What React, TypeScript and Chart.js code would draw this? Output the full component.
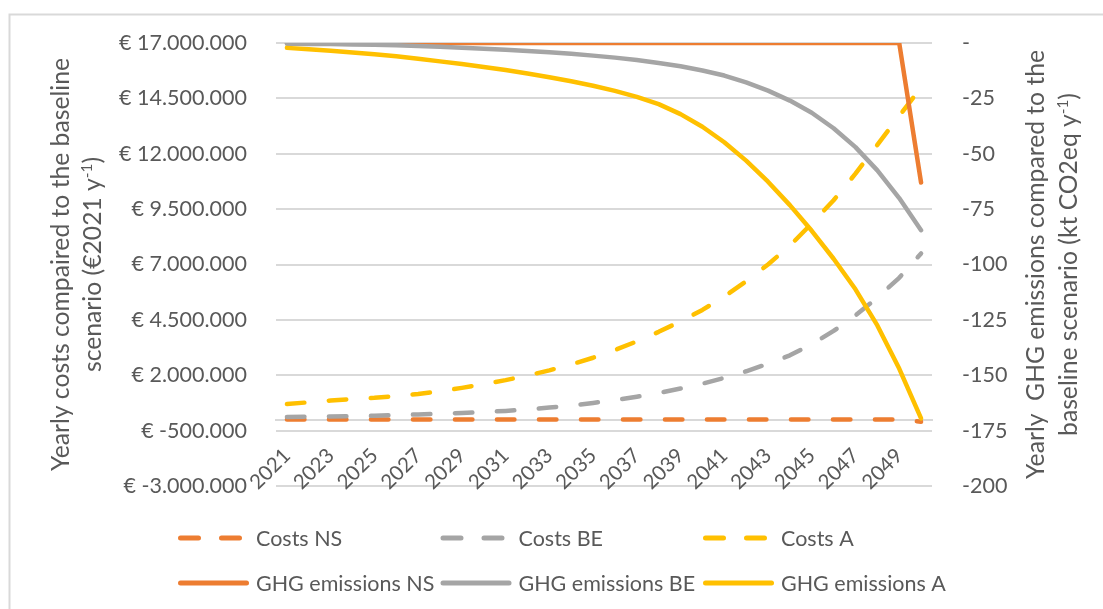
import React, { useEffect, useRef } from 'react';
import { Chart, registerables } from 'chart.js';

Chart.register(...registerables);

// ---------- data ----------
const years = [
  '2021', '2022', '2023', '2024', '2025', '2026', '2027', '2028', '2029', '2030',
  '2031', '2032', '2033', '2034', '2035', '2036', '2037', '2038', '2039', '2040',
  '2041', '2042', '2043', '2044', '2045', '2046', '2047', '2048', '2049', '2050',
];

// Yearly costs (€2021 per year) – left axis
const costsNS = [
  0, 0, 0, 0, 0, 0, 0, 0, 0, 0,
  0, 0, 0, 0, 0, 0, 0, 0, 0, 0,
  0, 0, 0, 0, 0, 0, 0, 0, 0, -100000,
];
const costsBE = [
  120000, 130000, 140000, 150000, 170000, 200000, 230000, 260000, 300000, 340000,
  390000, 460000, 540000, 630000, 750000, 880000, 1030000, 1200000, 1400000, 1620000,
  1880000, 2180000, 2520000, 2900000, 3400000, 4000000, 4700000, 5500000, 6400000, 7500000,
];
const costsA = [
  700000, 780000, 860000, 930000, 980000, 1060000, 1150000, 1280000, 1430000, 1600000,
  1780000, 1990000, 2220000, 2490000, 2790000, 3140000, 3530000, 3960000, 4430000, 4950000,
  5550000, 6240000, 7000000, 7850000, 8850000, 9900000, 11100000, 12400000, 13700000, 15000000,
];

// Yearly GHG emissions (kt CO2eq per year) – right axis
const ghgNS = [
  0, 0, 0, 0, 0, 0, 0, 0, 0, 0,
  0, 0, 0, 0, 0, 0, 0, 0, 0, 0,
  0, 0, 0, 0, 0, 0, 0, 0, 0, -63,
];
const ghgBE = [
  -0.3, -0.4, -0.5, -0.65, -0.8, -1.0, -1.3, -1.7, -2.1, -2.6,
  -3.1, -3.6, -4.2, -4.9, -5.7, -6.6, -7.7, -9.0, -10.5, -12.4,
  -14.7, -17.8, -21.5, -26, -31.5, -38.5, -47, -57.5, -70, -84.5,
];
const ghgA = [
  -2.2, -2.8, -3.5, -4.3, -5.1, -6.0, -7.1, -8.3, -9.5, -10.8,
  -12.2, -13.8, -15.5, -17.3, -19.3, -21.6, -24.3, -27.6, -32.1, -37.8,
  -44.8, -53.1, -62.6, -73.2, -84.8, -97.4, -111.2, -127.5, -147, -169.5,
];

const costAxis = { min: -3000000, max: 17000000, step: 2500000 };
const ghgAxis = { min: -200, max: 0, step: 25 };

const seriesLabels = [
  'Costs NS', 'Costs BE', 'Costs A',
  'GHG emissions NS', 'GHG emissions BE', 'GHG emissions A',
];

const leftTitle = ['Yearly costs compaired to the baseline', 'scenario (€2021 y', '-1', ')'];
const rightTitle = ['Yearly  GHG emissions compared to the', 'baseline scenario (kt CO2eq y', '-1', ')'];

// ---------- styles ----------
const ORANGE = '#ED7D31';
const GRAY = '#A5A5A5';
const YELLOW = '#FFC000';
const TEXT = '#595959';
const GRID = '#d9d9d9';
const FONT_FAMILY = 'Lato, "Noto Sans", sans-serif';
const FONT_SIZE = 21.5;
const XTICK_SIZE = 20.5;
const TITLE_SIZE = 24.7;
const LINE_W = 4.5;
const DASH = [17.5, 24.5];

function formatEuro(v: number): string {
  const neg = v < 0;
  const s = Math.round(Math.abs(v)).toString();
  let out = '';
  for (let i = 0; i < s.length; i++) {
    if (i > 0 && (s.length - i) % 3 === 0) out += '.';
    out += s[i];
  }
  return '€ ' + (neg ? '-' : '') + out;
}

function drawRotatedTitle(ctx: CanvasRenderingContext2D, parts: string[], x1: number, x2: number, cy: number) {
  ctx.save();
  ctx.fillStyle = TEXT;
  ctx.textBaseline = 'alphabetic';
  const mainFont = `${TITLE_SIZE}px ${FONT_FAMILY}`;
  const supFont = `${TITLE_SIZE * 0.62}px ${FONT_FAMILY}`;
  // first line
  ctx.save();
  ctx.translate(x1, cy);
  ctx.rotate(-Math.PI / 2);
  ctx.font = mainFont;
  ctx.textAlign = 'center';
  ctx.fillText(parts[0], 0, 0);
  ctx.restore();
  // second line with superscript
  ctx.save();
  ctx.translate(x2, cy);
  ctx.rotate(-Math.PI / 2);
  ctx.font = mainFont;
  const w1 = ctx.measureText(parts[1]).width;
  const w3 = ctx.measureText(parts[3]).width;
  ctx.font = supFont;
  const w2 = ctx.measureText(parts[2]).width;
  const total = w1 + w2 + w3;
  let x = -total / 2;
  ctx.textAlign = 'left';
  ctx.font = mainFont;
  ctx.fillText(parts[1], x, 0);
  x += w1;
  ctx.font = supFont;
  ctx.fillText(parts[2], x, -TITLE_SIZE * 0.38);
  x += w2;
  ctx.font = mainFont;
  ctx.fillText(parts[3], x, 0);
  ctx.restore();
  ctx.restore();
}

const decorPlugin = {
  id: 'decor',
  beforeDraw(chart: any) {
    const ctx = chart.ctx as CanvasRenderingContext2D;
    ctx.save();
    ctx.fillStyle = '#ffffff';
    ctx.fillRect(0, 0, chart.width, chart.height);
    ctx.strokeStyle = GRID;
    ctx.lineWidth = 2;
    ctx.strokeRect(9.5, 14.5, chart.width + 20, chart.height + 20);
    ctx.restore();
  },
  afterDraw(chart: any) {
    const ctx = chart.ctx as CanvasRenderingContext2D;
    const cy = (chart.chartArea.top + chart.chartArea.bottom) / 2;
    drawRotatedTitle(ctx, leftTitle, 69, 101, cy);
    drawRotatedTitle(ctx, rightTitle, 1044, 1077, cy);

    // legend: 3 columns x 2 rows
    const colX = [178, 440.5, 703];
    const rowY = [538, 583];
    ctx.save();
    ctx.font = `${FONT_SIZE}px ${FONT_FAMILY}`;
    ctx.textBaseline = 'middle';
    ctx.textAlign = 'left';
    chart.data.datasets.forEach((ds: any, i: number) => {
      const x0 = colX[i % 3];
      const y = rowY[Math.floor(i / 3)];
      ctx.strokeStyle = ds.borderColor;
      ctx.lineWidth = 5;
      ctx.lineCap = 'round';
      const dashed = !!(ds.borderDash && ds.borderDash.length);
      ctx.setLineDash(dashed ? [18, 23] : []);
      ctx.beginPath();
      ctx.moveTo(x0 + 2.5, y);
      ctx.lineTo(x0 + (dashed ? 62.5 : 68.5), y);
      ctx.stroke();
      ctx.setLineDash([]);
      ctx.fillStyle = TEXT;
      ctx.fillText(ds.label, x0 + 78, y + 1);
    });
    ctx.restore();
  },
};

export default function App() {
  const canvasRef = useRef<HTMLCanvasElement | null>(null);

  useEffect(() => {
    const canvas = canvasRef.current;
    if (!canvas) return;
    const mk = (label: string, data: number[], color: string, dashed: boolean, axis: string, order: number) => ({
      label,
      data,
      borderColor: color,
      backgroundColor: color,
      borderWidth: LINE_W,
      borderDash: dashed ? DASH : [],
      borderCapStyle: 'round',
      borderJoinStyle: 'round',
      pointRadius: 0,
      pointHoverRadius: 0,
      tension: 0,
      fill: false,
      yAxisID: axis,
      order,
    });
    const chart = new Chart(canvas, {
      type: 'line',
      data: {
        labels: years,
        datasets: [
          mk(seriesLabels[0], costsNS, ORANGE, true, 'y', 5),
          mk(seriesLabels[1], costsBE, GRAY, true, 'y', 4),
          mk(seriesLabels[2], costsA, YELLOW, true, 'y', 3),
          mk(seriesLabels[3], ghgNS, ORANGE, false, 'y1', 2),
          mk(seriesLabels[4], ghgBE, GRAY, false, 'y1', 1),
          mk(seriesLabels[5], ghgA, YELLOW, false, 'y1', 0),
        ] as any,
      },
      options: {
        animation: false,
        responsive: false,
        devicePixelRatio: 1,
        layout: { padding: { top: 43, bottom: 123, left: 0, right: 0 } },
        plugins: {
          legend: { display: false },
          tooltip: { enabled: false },
          title: { display: false },
        },
        events: [],
        scales: {
          x: {
            type: 'category',
            position: { y: 0 } as any,
            offset: true,
            grid: { display: false, drawTicks: false },
            border: { display: true, color: GRID, width: 2 },
            ticks: {
              autoSkip: false,
              minRotation: 45,
              maxRotation: 45,
              padding: 24,
              color: TEXT,
              font: { family: FONT_FAMILY, size: XTICK_SIZE },
              callback: (_v: any, i: number) => (i % 2 === 0 ? years[i] : ''),
            },
          },
          y: {
            type: 'linear',
            position: 'left',
            min: costAxis.min,
            max: costAxis.max,
            ticks: {
              stepSize: costAxis.step,
              padding: 29,
              color: TEXT,
              font: { family: FONT_FAMILY, size: FONT_SIZE },
              callback: (v: any) => formatEuro(Number(v)),
            },
            grid: { color: GRID, lineWidth: 2, drawTicks: false },
            border: { display: false },
            afterFit: (scale: any) => { scale.width = 276; },
          },
          y1: {
            type: 'linear',
            position: 'right',
            min: ghgAxis.min,
            max: ghgAxis.max,
            ticks: {
              stepSize: ghgAxis.step,
              padding: 30,
              color: TEXT,
              font: { family: FONT_FAMILY, size: FONT_SIZE },
              callback: (v: any) => (Number(v) === 0 ? '-' : String(v)),
            },
            grid: { display: false, drawOnChartArea: false, drawTicks: false },
            border: { display: false },
            afterFit: (scale: any) => { scale.width = 171; },
          },
        },
      } as any,
      plugins: [decorPlugin],
    });
    return () => chart.destroy();
  }, []);

  return (
    <div style={{ position: 'fixed', left: 0, top: 0, width: 1103, height: 609, background: '#fff' }}>
      <canvas ref={canvasRef} width={1103} height={609} style={{ width: 1103, height: 609, display: 'block' }} />
    </div>
  );
}
